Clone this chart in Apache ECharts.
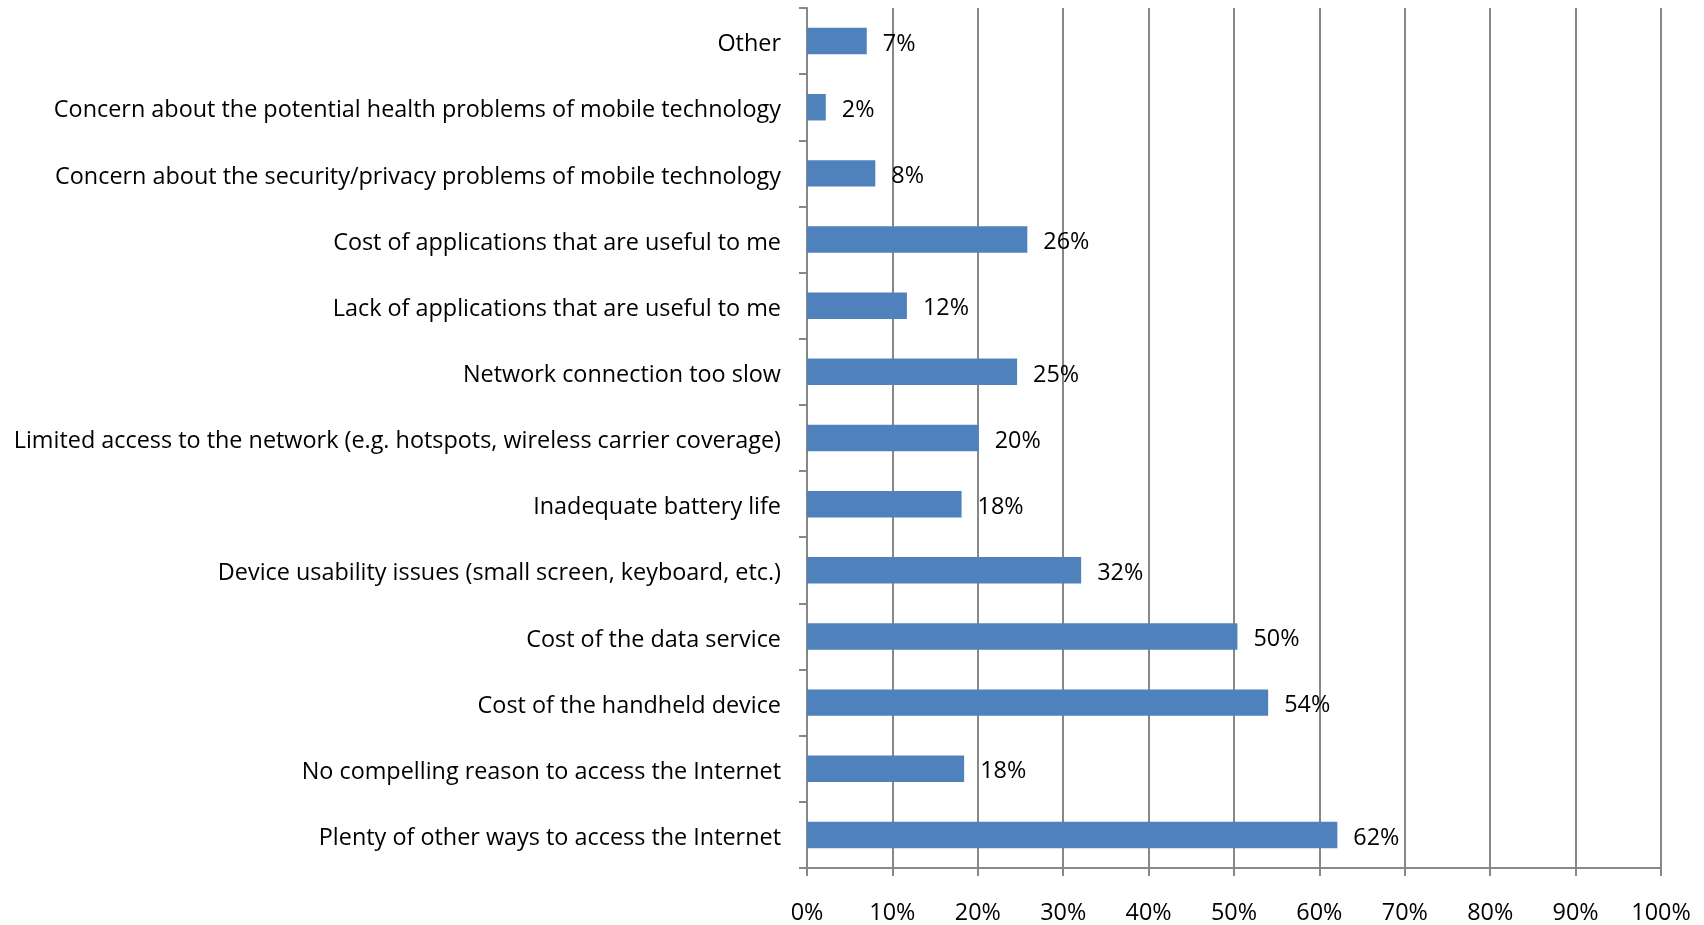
<!DOCTYPE html>
<html>
<head>
<meta charset="utf-8">
<script src="https://cdn.jsdelivr.net/npm/echarts@6/dist/echarts.min.js"></script>
<style>
  html, body { margin: 0; padding: 0; background: #fff; }
  #chart { width: 1704px; height: 925px; }
</style>
</head>
<body>
<div id="chart"></div>
<script>
// categories from bottom to top (as drawn on the category axis)
var reasons = [
  'Plenty of other ways to access the Internet',
  'No compelling reason to access the Internet',
  'Cost of the handheld device',
  'Cost of the data service',
  'Device usability issues (small screen, keyboard, etc.)',
  'Inadequate battery life',
  'Limited access to the network (e.g. hotspots, wireless carrier coverage)',
  'Network connection too slow',
  'Lack of applications that are useful to me',
  'Cost of applications that are useful to me',
  'Concern about the security/privacy problems of mobile technology',
  'Concern about the potential health problems of mobile technology',
  'Other'
];
// share of respondents (%)
var shares = [62.1, 18.4, 54.0, 50.4, 32.1, 18.1, 20.1, 24.6, 11.7, 25.8, 8.0, 2.2, 7.0];

var chart = echarts.init(document.getElementById('chart'));

var font = 'Open Sans';
var gray = '#878787';

var option = {
  animation: false,
  grid: {
    left: 807,
    right: 43,
    top: 8,
    bottom: 56
  },
  xAxis: {
    type: 'value',
    min: 0,
    max: 100,
    interval: 10,
    axisLine: { show: true, lineStyle: { color: gray, width: 2 } },
    axisTick: { show: true, length: 8, lineStyle: { color: gray, width: 2 } },
    splitLine: { show: true, lineStyle: { color: gray, width: 2 } },
    axisLabel: {
      formatter: '{value}%',
      margin: 34,
      color: '#000',
      fontFamily: font,
      fontSize: 23.4
    }
  },
  yAxis: {
    type: 'category',
    data: reasons,
    axisLine: { show: true, lineStyle: { color: gray, width: 2 } },
    axisTick: { show: true, length: 8, lineStyle: { color: gray, width: 2 } },
    axisLabel: {
      margin: 26,
      color: '#000',
      fontFamily: font,
      fontSize: 23.4,
      formatter: function (v) { return '{t|' + v + '}'; },
      rich: {
        t: { fontFamily: font, fontSize: 23.4, color: '#000', padding: [7, 0, 0, 0] }
      }
    }
  },
  series: [{
    type: 'bar',
    data: shares,
    barCategoryGap: '60%',
    itemStyle: { color: '#4F81BD' },
    label: {
      show: true,
      position: 'right',
      distance: 16,
      offset: [0, 3],
      color: '#000',
      fontFamily: font,
      fontSize: 23.4,
      formatter: function (p) { return Math.round(p.value) + '%'; }
    }
  }]
};

chart.setOption(option);
</script>
</body>
</html>
